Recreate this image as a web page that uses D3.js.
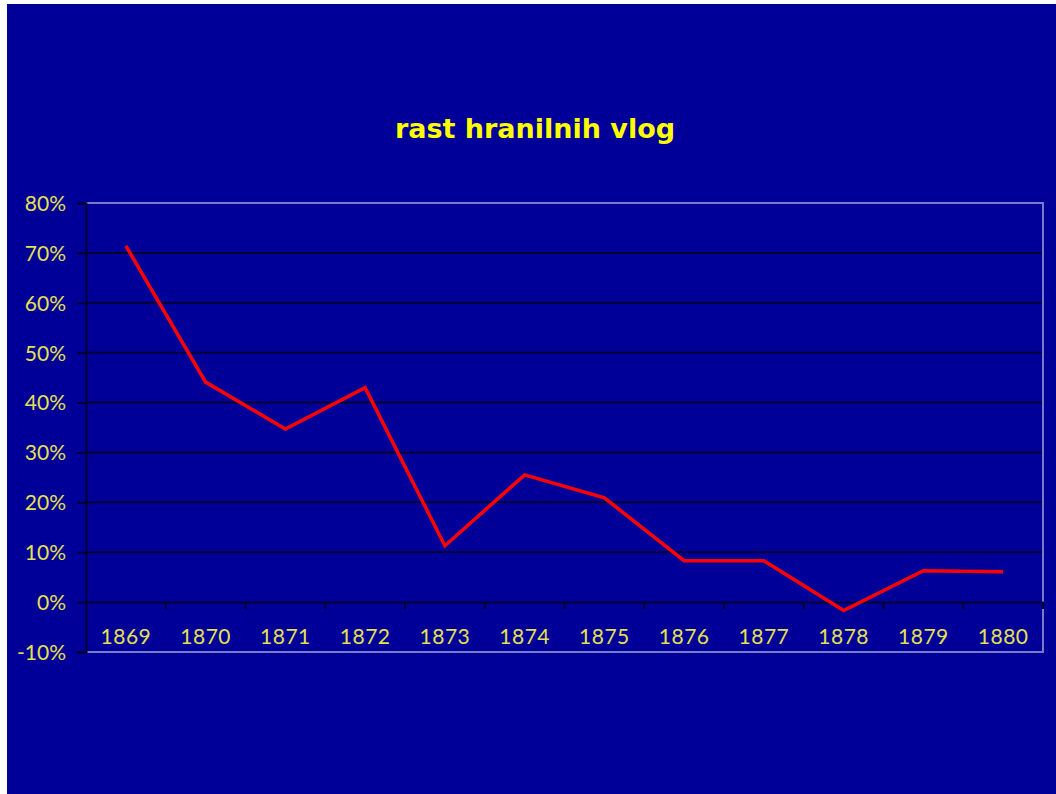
<!DOCTYPE html>
<html><head><meta charset="utf-8">
<script src="https://cdn.jsdelivr.net/npm/d3@7"></script>
<style>html,body{margin:0;padding:0;background:#fff;}svg{display:block;}</style>
</head><body>
<svg id="c" width="1056" height="794"></svg>
<script>
const title = "rast hranilnih vlog";
const years = ["1869","1870","1871","1872","1873","1874","1875","1876","1877","1878","1879","1880"];
const growth = [71.4, 44.1, 34.7, 43.0, 11.3, 25.5, 20.9, 8.3, 8.3, -1.7, 6.3, 6.1];
const yTicks = [-10, 0, 10, 20, 30, 40, 50, 60, 70, 80];

const svg = d3.select("#c");
svg.append("rect").attr("x",7).attr("y",4).attr("width",1049).attr("height",790).attr("fill","#000099");

const L=86, R=1043, T=203, B=652;
const x = d3.scaleBand().domain(years).range([L,R]).padding(0);
const y = d3.scaleLinear().domain([-10,80]).range([B,T]);

svg.append("text").attr("x",535).attr("y",138).attr("text-anchor","middle")
  .attr("font-family","'DejaVu Sans', sans-serif").attr("font-weight","bold")
  .attr("font-size",27).attr("fill","#ffff00").text(title);

// gridlines
svg.append("g").selectAll("line").data(yTicks.filter(d=>d!==-10 && d!==80 && d!==0)).join("line")
  .attr("x1",L).attr("x2",R).attr("y1",d=>y(d)).attr("y2",d=>y(d))
  .attr("stroke","#000033").attr("stroke-width",2);

// plot border top/right/bottom
svg.append("path").attr("d",`M${L},${y(80)}H${R}V${y(-10)}H${L}`).attr("fill","none")
  .attr("stroke","#7a7acc").attr("stroke-width",2);

// y axis
const yAxis = d3.axisLeft(y).tickValues(yTicks).tickFormat(d=>d+"%").tickSize(9).tickPadding(11);
const gy = svg.append("g").attr("transform",`translate(${L},0)`).call(yAxis);
gy.select(".domain").attr("stroke","#000033").attr("stroke-width",2);
gy.selectAll(".tick line").attr("stroke","#000033").attr("stroke-width",2);
gy.selectAll(".tick text").attr("fill","#e6e050").attr("font-family","Lato, 'DejaVu Sans', sans-serif")
  .attr("font-size",21).attr("dy","0.35em");

// x axis at zero
const xAxis = d3.axisBottom(x).tickSize(0).tickPadding(27);
const gx = svg.append("g").attr("transform",`translate(0,${y(0)})`).call(xAxis);
gx.select(".domain").attr("stroke","#000033").attr("stroke-width",2);
gx.selectAll(".tick text").attr("fill","#e6e050").attr("font-family","Lato, 'DejaVu Sans', sans-serif")
  .attr("font-size",21).attr("letter-spacing","0.5px");
// category boundary ticks
svg.append("g").selectAll("line").data(years.slice(1).concat(["end"])).join("line")
  .attr("x1",d=>d==="end"?R:x(d)).attr("x2",d=>d==="end"?R:x(d))
  .attr("y1",y(0)).attr("y2",y(0)+7).attr("stroke","#000033").attr("stroke-width",2);

// line
const line = d3.line().x((d,i)=>x(years[i])+x.bandwidth()/2).y(d=>y(d));
svg.append("path").datum(growth).attr("d",line).attr("fill","none")
  .attr("stroke","#ff0000").attr("stroke-width",3.5).attr("stroke-linejoin","miter");
</script>
</body></html>
